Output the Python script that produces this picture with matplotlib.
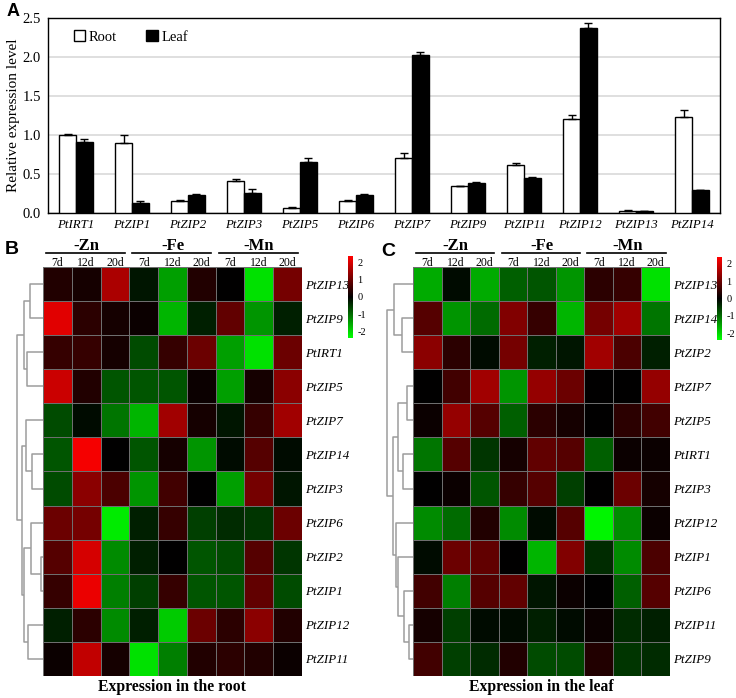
import numpy as np
import matplotlib
matplotlib.use('Agg')
import matplotlib.pyplot as plt
from matplotlib.colors import LinearSegmentedColormap
from matplotlib.patches import Patch

plt.rcParams['font.family'] = ['Liberation Serif', 'DejaVu Serif']

# ---- panel A data ----
genes = ['PtIRT1', 'PtZIP1', 'PtZIP2', 'PtZIP3', 'PtZIP5', 'PtZIP6',
         'PtZIP7', 'PtZIP9', 'PtZIP11', 'PtZIP12', 'PtZIP13', 'PtZIP14']
root_mean = [1.00, 0.90, 0.16, 0.41, 0.07, 0.16, 0.71, 0.34, 0.61, 1.20, 0.03, 1.23]
root_err = [0.015, 0.10, 0.012, 0.03, 0.005, 0.008, 0.065, 0.01, 0.025, 0.06, 0.006, 0.085]
leaf_mean = [0.91, 0.13, 0.23, 0.26, 0.66, 0.23, 2.02, 0.39, 0.45, 2.37, 0.025, 0.29]
leaf_err = [0.04, 0.02, 0.015, 0.045, 0.045, 0.008, 0.05, 0.012, 0.012, 0.06, 0.004, 0.006]

# ---- heatmap data ----
conditions = ['-Zn', '-Fe', '-Mn']
days = ['7d', '12d', '20d']

root_rows = ['PtZIP13', 'PtZIP9', 'PtIRT1', 'PtZIP5', 'PtZIP7', 'PtZIP14',
             'PtZIP3', 'PtZIP6', 'PtZIP2', 'PtZIP1', 'PtZIP12', 'PtZIP11']
root_vals = [
    [0.3, 0.2, 1.6, -0.2, -1.5, 0.3, 0.0, -2.1, 1.1],
    [2.1, 0.4, 0.2, 0.1, -1.7, -0.3, 0.9, -1.4, -0.3],
    [0.5, 0.5, 0.2, -0.7, 0.5, 1.0, -1.5, -2.1, 1.0],
    [1.9, 0.3, -0.8, -0.8, -0.8, 0.1, -1.5, 0.2, 1.3],
    [-0.7, -0.1, -1.1, -1.7, 1.5, 0.2, -0.2, 0.5, 1.5],
    [-0.8, 2.3, 0.0, -0.8, 0.2, -1.4, -0.1, 0.8, -0.1],
    [-0.7, 1.3, 0.7, -1.4, 0.6, 0.0, -1.5, 1.1, -0.2],
    [1.0, 1.1, -2.2, -0.3, 0.5, -0.6, -0.4, -0.5, 1.0],
    [0.8, 2.0, -1.3, -0.3, 0.0, -0.8, -0.7, 0.8, -0.5],
    [0.5, 2.2, -1.2, -0.6, 0.5, -0.8, -0.8, 0.9, -0.7],
    [-0.3, 0.4, -1.3, -0.3, -1.9, 1.0, 0.4, 1.3, 0.3],
    [0.1, 1.8, 0.2, -2.1, -1.2, 0.3, 0.4, 0.3, 0.1],
]

leaf_rows = ['PtZIP13', 'PtZIP14', 'PtZIP2', 'PtZIP7', 'PtZIP5', 'PtIRT1',
             'PtZIP3', 'PtZIP12', 'PtZIP1', 'PtZIP6', 'PtZIP11', 'PtZIP9']
leaf_vals = [
    [-1.6, -0.1, -1.6, -0.9, -0.8, -1.4, 0.4, 0.5, -2.1],
    [0.8, -1.4, -1.0, 1.2, 0.5, -1.7, 1.1, 1.5, -1.1],
    [1.3, 0.4, -0.1, 1.1, -0.3, -0.2, 1.5, 0.7, -0.3],
    [0.0, 0.6, 1.5, -1.4, 1.4, 1.0, 0.0, 0.0, 1.4],
    [0.1, 1.4, 0.8, -0.9, 0.4, 0.2, 0.0, 0.4, 0.6],
    [-1.1, 0.8, -0.5, 0.2, 0.9, 0.8, -0.9, 0.1, 0.1],
    [0.0, 0.1, -0.8, 0.5, 0.8, -0.6, 0.0, 1.0, 0.2],
    [-1.3, -1.0, 0.3, -1.3, -0.1, 0.8, -2.3, -1.3, 0.1],
    [-0.1, 1.0, 0.9, 0.0, -1.7, 1.2, -0.4, -1.3, 0.7],
    [0.6, -1.2, 0.8, 0.9, -0.2, 0.1, 0.0, -0.9, 0.8],
    [0.2, -0.6, -0.1, -0.1, -0.3, -0.1, 0.1, -0.4, -0.3],
    [0.6, -0.6, -0.4, 0.3, -0.7, -0.7, 0.3, -0.5, -0.4],
]

# dendrograms: (left, right, height); leaves are row indices
root_tree = (((0, 1, 13), (2, 3, 15.7), 19),
             ((4, (5, 6, 11.3), 17),
              ((7, (8, 9, 2.3), 12.3), (10, 11, 14.7), 19), 20.7), 26.3)
leaf_tree = ((0, (1, 2, 11.3), 18.7),
             (((3, 4, 6.3), (5, 6, 10.3), 15.3),
              (7, (8, (9, (10, 11, 3.7), 8.7), 14.7), 17), 19.7), 26)

W, H = 736, 698
fig = plt.figure(figsize=(W / 100, H / 100), dpi=100)


def rect(x0, y0, x1, y1):
    # pixel box -> figure fraction
    return [x0 / W, 1 - y1 / H, (x1 - x0) / W, (y1 - y0) / H]


# ---------------- panel A ----------------
ax = fig.add_axes(rect(48, 18, 720, 213))
x = np.arange(len(genes))
bw = 0.3
ax.bar(x - bw / 2, root_mean, bw, color='white', edgecolor='black', lw=1,
       yerr=[np.zeros(len(genes)), root_err], capsize=3,
       error_kw=dict(lw=1, capthick=1), zorder=3)
ax.bar(x + bw / 2, leaf_mean, bw, color='black', edgecolor='black', lw=1,
       yerr=[np.zeros(len(genes)), leaf_err], capsize=3,
       error_kw=dict(lw=1, capthick=1), zorder=3)
ax.set_xlim(-0.5, len(genes) - 0.5)
ax.set_ylim(0, 2.5)
ax.set_yticks(np.arange(0, 2.51, 0.5))
ax.set_yticklabels(['%.1f' % v for v in np.arange(0, 2.51, 0.5)], fontsize=10.5)
ax.set_xticks(x)
ax.set_xticklabels(genes, fontsize=9.3, style='italic')
ax.tick_params(axis='x', length=0, pad=4)
ax.tick_params(axis='y', length=0, pad=5)
ax.yaxis.grid(True, color='#d9d9d9', lw=1.2)
ax.set_axisbelow(True)
for s in ax.spines.values():
    s.set_color('black')
    s.set_linewidth(1)
ax.set_ylabel('Relative expression level', fontsize=11, labelpad=1.5)
handles = [Patch(facecolor='white', edgecolor='black', label='Root'),
           Patch(facecolor='black', edgecolor='black', label='Leaf')]
ax.legend(handles=handles, ncol=2, frameon=False, fontsize=10.5,
          loc='center left', bbox_to_anchor=(0.038, 0.903),
          borderpad=0, borderaxespad=0,
          handlelength=0.8, handleheight=0.8, handletextpad=0.25,
          columnspacing=2.0)

# ---------------- heatmaps ----------------
cmap = LinearSegmentedColormap.from_list('gkr', ['#00ff00', '#000000', '#ff0000'])
vlim = 2.4


def draw_tree(axd, node, color='#9c9c9c'):
    if isinstance(node, int):
        return node + 0.5, 0
    left, right, h = node
    yl, hl = draw_tree(axd, left, color)
    yr, hr = draw_tree(axd, right, color)
    axd.plot([hl, h, h, hr], [yl, yl, yr, yr], color=color, lw=1.1,
             solid_capstyle='butt')
    return (yl + yr) / 2, h


def heat_panel(x0, x1, y0, y1, vals, rows, tree, cbox, title, letter, lxy):
    axh = fig.add_axes(rect(x0, y0, x1, y1))
    data = np.array(vals)
    axh.pcolormesh(data, cmap=cmap, vmin=-vlim, vmax=vlim,
                   edgecolor='#6e6e6e', lw=0.7)
    axh.set_xlim(0, 9)
    axh.set_ylim(12, 0)
    axh.set_xticks([])
    axh.yaxis.tick_right()
    axh.set_yticks(np.arange(12) + 0.5)
    axh.set_yticklabels(rows, fontsize=9.4, style='italic')
    axh.tick_params(axis='y', length=0, pad=2)
    for s in axh.spines.values():
        s.set_visible(False)
    # condition headers
    for g, cond in enumerate(conditions):
        axh.plot([g * 3 + 0.1, g * 3 + 2.85], [-0.41, -0.41], color='black',
                 lw=1.2, clip_on=False)
        axh.text(g * 3 + 1.5, -0.49, cond, ha='center', va='baseline',
                 fontsize=12, fontweight='bold')
        for d, day in enumerate(days):
            axh.text(g * 3 + d + 0.5, -0.04, day, ha='center', va='baseline',
                     fontsize=8.5)
    axh.text(4.5, 12.08, title, ha='center', va='top', fontsize=11.3,
             fontweight='bold')

    # dendrogram
    axd = fig.add_axes(rect(x0 - 30, y0, x0, y1))
    draw_tree(axd, tree)
    axd.set_xlim(30, 0)
    axd.set_ylim(12, 0)
    axd.axis('off')

    # colorbar
    axc = fig.add_axes(rect(*cbox))
    grad = np.linspace(vlim, -vlim, 200).reshape(-1, 1)
    axc.imshow(grad, cmap=cmap, vmin=-vlim, vmax=vlim, aspect='auto',
               extent=[0, 1, -vlim, vlim])
    axc.set_xticks([])
    axc.yaxis.tick_right()
    axc.set_yticks([2, 1, 0, -1, -2])
    axc.set_yticklabels(['2', '1', '0', '-1', '-2'], fontsize=7.5)
    axc.tick_params(axis='y', length=0, pad=3)
    for s in axc.spines.values():
        s.set_visible(False)

    fig.text(lxy[0] / W, 1 - lxy[1] / H, letter, fontsize=14,
             fontweight='bold', family='Liberation Sans', ha='left', va='center')


heat_panel(43, 302, 267, 676, root_vals, root_rows, root_tree,
           (348, 256, 353, 338), 'Expression in the root', 'B', (5, 250))
heat_panel(413, 670, 267, 676, leaf_vals, leaf_rows, leaf_tree,
           (717, 257, 722, 340), 'Expression in the leaf', 'C', (381, 252))

fig.text(7 / W, 1 - 11 / H, 'A', fontsize=13, fontweight='bold',
         family='Liberation Sans', ha='left', va='center')

fig.savefig('out.png', dpi=100)
